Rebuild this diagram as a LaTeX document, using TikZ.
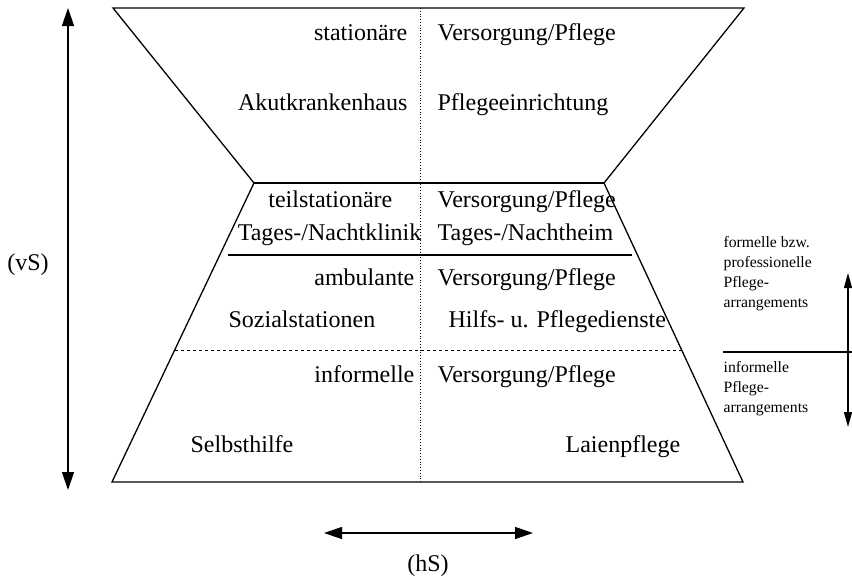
\documentclass[tikz,border=0pt]{standalone}
\usepackage{fontspec}
\setmainfont{Liberation Serif}
\usetikzlibrary{arrows.meta}
\tikzset{
  lft/.style={anchor=east,inner sep=0pt,text height=.7em,text depth=.22em},
  rgt/.style={anchor=west,inner sep=0pt,text height=.7em,text depth=.22em},
  note/.style={anchor=north west,inner sep=0pt,align=left,font=\fontsize{15.7}{20}\selectfont}
}
\begin{document}
\begin{tikzpicture}[x=1pt,y=-1pt,>={Triangle[length=18pt,width=12pt]},line width=1.3pt,font=\fontsize{24}{28}\selectfont]
  \useasboundingbox (0,0) rectangle (852,579);
  % funnel
  \coordinate (tl) at (113,8);
  \coordinate (tr) at (744,8);
  \coordinate (ml) at (254,183);
  \coordinate (mr) at (604,183);
  \coordinate (bl) at (112,482);
  \coordinate (br) at (743,482);
  \draw (tl)--(tr)--(mr)--(br)--(bl)--(ml)--cycle;
  \draw (ml)--(mr);
  \coordinate (dt) at (420,8);
  \coordinate (db) at (420,482);
  \draw[dotted,line width=.8pt] (dt)--(db);
  \coordinate (sl) at (228,255);
  \coordinate (sr) at (632,255);
  \draw (sl)--(sr);
  \coordinate (dl) at (175,350);
  \coordinate (dr) at (682,350);
  \draw[dashed,line width=.8pt] (dl)--(dr);
  % labels
  \node[lft] (stat) at (408,38) {stationäre};
  \node[rgt] (vp1) at (437,38) {Versorgung/Pflege};
  \node[lft] (akut) at (408,108) {Akutkrankenhaus};
  \node[rgt] (pfl) at (437,108) {Pflegeeinrichtung};
  \node[lft] (teil) at (393,205) {teilstationäre};
  \node[rgt] (vp2) at (437,205) {Versorgung/Pflege};
  \node[lft] (klinik) at (422,238) {Tages-/Nachtklinik};
  \node[rgt] (heim) at (437,238) {Tages-/Nachtheim};
  \node[lft] (amb) at (415,283) {ambulante};
  \node[rgt] (vp3) at (437,283) {Versorgung/Pflege};
  \node[rgt] (sozial) at (228,325) {Sozialstationen};
  \node[rgt] (hilfs) at (448,325) {Hilfs- u. Pflegedienste};
  \node[lft] (inf) at (415,380) {informelle};
  \node[rgt] (vp4) at (437,380) {Versorgung/Pflege};
  \node[rgt] (selbst) at (190,450) {Selbsthilfe};
  \node[rgt] (laien) at (565,450) {Laienpflege};
  % right side
  \node[note] (formell) at (723,236) {formelle bzw.\\professionelle\\Pflege-\\arrangements};
  \node[note] (informell) at (723,361) {informelle\\Pflege-\\arrangements};
  \coordinate (gl) at (723,352);
  \coordinate (gr) at (852,352);
  \draw (gl)--(gr);
  \coordinate (at) at (848,273);
  \coordinate (ab) at (848,427);
  \draw[<->,>={Triangle[length=15pt,width=8pt]}] (at)--(ab);
  % axes
  \coordinate (vt) at (68,8);
  \coordinate (vb) at (68,490);
  \draw[<->] (vt)--(vb);
  \node (vs) at (28,265) {(vS)};
  \coordinate (hl) at (324,533);
  \coordinate (hr) at (533,533);
  \draw[<->] (hl)--(hr);
  \node (hs) at (428,566) {(hS)};
\end{tikzpicture}
\end{document}
